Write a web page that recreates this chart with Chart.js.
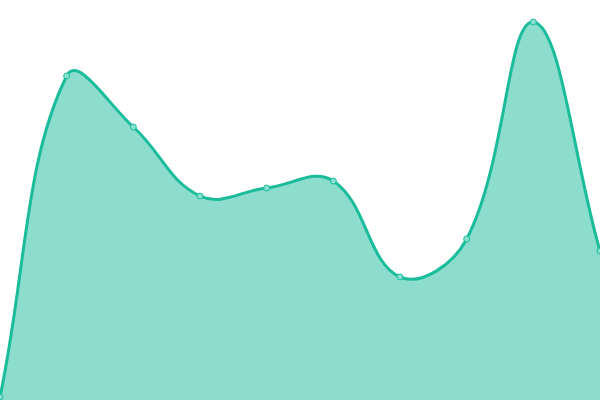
<!DOCTYPE html>
<html><head><meta charset="utf-8">
<script src="https://cdn.jsdelivr.net/npm/chart.js@4"></script>
<style>html,body{margin:0;padding:0;background:#fff}#c{display:block}</style>
</head><body>
<div style="width:600px;height:400px"><canvas id="c"></canvas></div>
<script>
const labels = ["1","2","3","4","5","6","7","8","9","10"];
const values = [0.75, 81, 68.25, 51, 53, 54.75, 30.75, 40.25, 94.5, 37.25];
new Chart(document.getElementById('c'), {
  type: 'line',
  data: { labels: labels, datasets: [{
    data: values,
    borderColor: '#1abc9c',
    backgroundColor: 'rgba(26,188,156,0.5)',
    fill: true,
    borderWidth: 3,
    tension: 0.4,
    pointRadius: 3,
    pointBorderWidth: 1,
    pointBackgroundColor: 'rgba(138,224,207,1)',
    pointBorderColor: '#1abc9c'
  }]},
  options: {
    responsive: true, maintainAspectRatio: false, animation: false,
    layout: { padding: 0, autoPadding: false },
    plugins: { legend: { display: false }, tooltip: { enabled: false } },
    scales: {
      x: { display: false, offset: false },
      y: { display: false, min: 0, max: 100 }
    }
  }
});
</script>
</body></html>
